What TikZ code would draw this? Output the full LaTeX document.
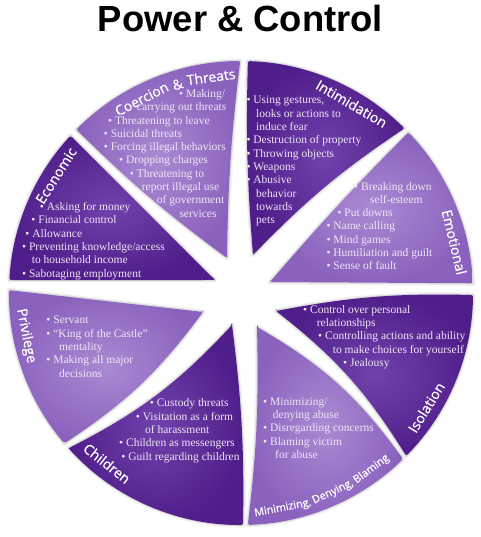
\documentclass[tikz,border=0pt]{standalone}
\usepackage{fontspec}
\newfontfamily\titlefont{Liberation Sans}
\newfontfamily\bodyfont{Liberation Serif}
\newfontfamily\labfont{Open Sans}[FakeBold=0.6]
\definecolor{dkin}{HTML}{7042AC}
\definecolor{dkout}{HTML}{501E8A}
\definecolor{ltin}{HTML}{A98AD2}
\definecolor{ltout}{HTML}{8A62BD}
\definecolor{txtcol}{HTML}{EEE7F7}
\tikzset{
  txt/.style={anchor=base west, inner sep=0pt, text=txtcol,
    font=\bodyfont\fontsize{11.5}{13.3}\selectfont},
  titlestyle/.style={anchor=base, inner sep=0pt,
    font=\titlefont\bfseries\fontsize{36.4}{40}\selectfont},
  lab/.style={anchor=base, inner sep=0pt, text=white,
    font=\labfont\fontsize{14}{14}\selectfont},
  smalllab/.style={lab, font=\labfont\fontsize{10.8}{10.8}\selectfont},
  halo/.style={draw=black, line join=round, fill=none}
}
% one wheel segment path: start angle, end angle, tip, bend of first edge, bend of second edge
\newcommand\WSegPath[5]{(#3) to[bend left=#4] (#1:232) arc[start angle=#1, end angle=#2, radius=232] to[bend right=#5] (#3) -- cycle}
% segment: angles, tip, inner colour, outer colour, bends
\newcommand\WSeg[7]{%
  \draw[halo, opacity=0.05, line width=5pt] \WSegPath{#1}{#2}{#3}{#6}{#7};
  \draw[halo, opacity=0.09, line width=2.4pt] \WSegPath{#1}{#2}{#3}{#6}{#7};
  \shade[inner color=#4, outer color=#5, rounded corners=2pt] \WSegPath{#1}{#2}{#3}{#6}{#7};
}
% a word on the rim, tops outward: name, angle, radius, text, style
\newcommand\OutWord[5]{\node[#5, rotate={#2-90}] (#1) at (#2:#3) {#4};}
% a word on the rim, tops inward
\newcommand\InWord[5]{\node[#5, rotate={#2+90}] (#1) at (#2:#3) {#4};}
% one text line, placed by image coordinates
\newcommand\WL[4]{\node[txt] (#1) at ({#2-241},{293-#3}) {#4};}

\begin{document}
\begin{tikzpicture}[x=1pt,y=1pt]
\useasboundingbox (-241,-244) rectangle (239,293);
\fill[white] (-241,-244) rectangle (239,293);

\node[titlestyle] (title) at (-0.5,261) {Power \& Control};

% segments
\WSeg{135.2}{90.2}{-14,35}{ltin}{ltout}{4}{3}
\WSeg{88.3}{45.2}{12,38}{dkin}{dkout}{3}{6}
\WSeg{43.8}{2.4}{29,11}{ltin}{ltout}{2}{0}
\WSeg{-0.5}{-44.6}{35,-18}{dkin}{dkout}{6}{10}
\WSeg{-45.7}{-88.3}{16,-34}{ltin}{ltout}{12}{4}
\WSeg{-89.5}{-138}{-9,-32}{dkin}{dkout}{4}{10}
\WSeg{-139.6}{-180.7}{-38,-19}{ltin}{ltout}{10}{0}
\WSeg{176.8}{137.3}{-26,13}{dkin}{dkout}{0}{0}

% segment titles along the rim
\OutWord{lco1}{117.1}{213}{Coercion}{lab}
\OutWord{lco2}{106.9}{213}{\&}{lab}
\OutWord{lco3}{97.9}{213}{Threats}{lab}
\OutWord{lin}{59.7}{214}{Intimidation}{lab}
\OutWord{lem}{13.4}{214}{Emotional}{lab}
\OutWord{lec}{147.6}{214}{Economic}{lab}
\InWord{lis}{-31.7}{223}{Isolation}{lab}
\InWord{lmi1}{-79.0}{222}{Minimizing,}{smalllab}
\InWord{lmi2}{-65.2}{222}{Denying,}{smalllab}
\InWord{lmi3}{-53.5}{222}{Blaming}{smalllab}
\InWord{lch}{-128.2}{222}{Children}{lab}
\InWord{lpr}{191.3}{223}{Privilege}{lab}

% Coercion & Threats
\WL{co1}{179}{97.5}{• Making/}
\WL{co2}{136.7}{110.8}{carrying out threats}
\WL{co3}{108}{124.1}{• Threatening to leave}
\WL{co4}{103.7}{137.4}{• Suicidal threats}
\WL{co5}{103.7}{150.7}{• Forcing illegal behaviors}
\WL{co6}{119}{164}{• Dropping charges}
\WL{co7}{129.7}{177.3}{• Threatening to}
\WL{co8}{141.7}{190.6}{report illegal use}
\WL{co9}{156.7}{203.9}{of government}
\WL{co10}{179.3}{217.2}{services}

% Intimidation
\WL{in1}{246.3}{104}{• Using gestures,}
\WL{in2}{256}{117.3}{looks or actions to}
\WL{in3}{256}{130.7}{induce fear}
\WL{in4}{246.3}{144}{• Destruction of property}
\WL{in5}{246.3}{157.3}{• Throwing objects}
\WL{in6}{246.3}{170.7}{• Weapons}
\WL{in7}{246.3}{184}{• Abusive}
\WL{in8}{256}{197.3}{behavior}
\WL{in9}{256}{210.7}{towards}
\WL{in10}{256}{224}{pets}

% Emotional
\WL{em1}{354}{190.7}{• Breaking down}
\WL{em2}{370}{203.3}{self-esteem}
\WL{em3}{337.3}{216.7}{• Put downs}
\WL{em4}{326.3}{230}{• Name calling}
\WL{em5}{326.3}{243.3}{• Mind games}
\WL{em6}{326.3}{256.7}{• Humiliation and guilt}
\WL{em7}{326.3}{270}{• Sense of fault}

% Isolation
\WL{is1}{303}{313.3}{• Control over personal}
\WL{is2}{316.7}{326.7}{relationships}
\WL{is3}{318}{340}{• Controlling actions and ability}
\WL{is4}{332.7}{353.3}{to make choices for yourself}
\WL{is5}{343}{366.7}{• Jealousy}

% Minimizing, Denying, Blaming
\WL{mi1}{263}{405.7}{• Minimizing/}
\WL{mi2}{272.7}{418.3}{denying abuse}
\WL{mi3}{263}{431.7}{• Disregarding concerns}
\WL{mi4}{263}{445}{• Blaming victim}
\WL{mi5}{275}{458.3}{for abuse}

% Children
\WL{ch1}{149.7}{406.7}{• Custody threats}
\WL{ch2}{135.7}{420}{• Visitation as a form}
\WL{ch3}{145}{433.3}{of harassment}
\WL{ch4}{119}{446.7}{• Children as messengers}
\WL{ch5}{121.3}{460}{• Guilt regarding children}

% Privilege
\WL{pr1}{46.3}{324}{• Servant}
\WL{pr2}{46.3}{337.3}{• “King of the Castle”}
\WL{pr3}{59}{350.7}{mentality}
\WL{pr4}{46.3}{364}{• Making all major}
\WL{pr5}{59}{377.3}{decisions}

% Economic
\WL{ec1}{39.7}{210.7}{• Asking for money}
\WL{ec2}{31.3}{224}{• Financial control}
\WL{ec3}{25.3}{237.3}{• Allowance}
\WL{ec4}{22}{250.7}{• Preventing knowledge/access}
\WL{ec5}{31.7}{264}{to household income}
\WL{ec6}{22}{277.3}{• Sabotaging employment}
\end{tikzpicture}
\end{document}
